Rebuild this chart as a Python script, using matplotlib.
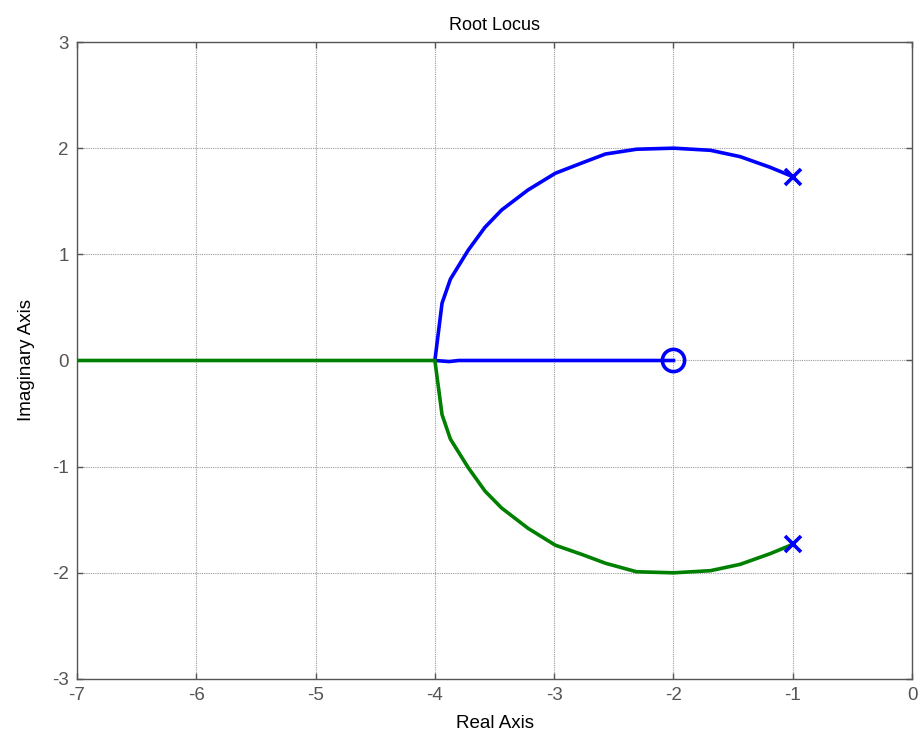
import matplotlib.pyplot as plt
import numpy as np

plt.rcParams['font.family'] = ['Liberation Sans', 'DejaVu Sans']
plt.rcParams['axes.unicode_minus'] = False

# open-loop poles and zero
poles_re = [-1.0, -1.0]
poles_im = [1.732, -1.732]
zeros_re = [-2.0]
zeros_im = [0.0]

# branch 1: upper pole -> breakaway at -4 -> zero at -2
branch1_re = [-1.0, -1.19, -1.44, -1.69, -2.0, -2.31, -2.57, -2.76, -2.99, -3.22,
              -3.44, -3.58, -3.72, -3.87, -3.94, -4.0, -3.88, -3.8, -2.0]
branch1_im = [1.732, 1.82, 1.92, 1.98, 2.0, 1.99, 1.945, 1.864, 1.764, 1.606,
              1.418, 1.255, 1.04, 0.766, 0.54, 0.0, -0.01, 0.0, 0.0]

# branch 2: lower pole -> breakaway at -4 -> along the negative real axis
branch2_re = [-1.0, -1.19, -1.44, -1.69, -2.0, -2.31, -2.57, -2.76, -2.99, -3.22,
              -3.44, -3.58, -3.72, -3.87, -3.94, -4.0, -12.0]
branch2_im = [-1.732, -1.82, -1.92, -1.98, -2.0, -1.99, -1.91, -1.83, -1.74, -1.58,
              -1.39, -1.23, -1.01, -0.74, -0.51, 0.0, 0.0]

gray = '#555555'

fig = plt.figure(figsize=(9.18, 7.49), dpi=100)
ax = fig.add_axes([0.0839, 0.0935, 0.9096, 0.8504])

ax.plot(branch1_re, branch1_im, color='#0000ff', lw=2.6, solid_joinstyle='miter', zorder=3)
ax.plot(branch2_re, branch2_im, color='#008000', lw=2.6, solid_joinstyle='miter', zorder=3)
ax.plot(poles_re, poles_im, 'x', color='#0000ff', ms=12, mew=2.6, zorder=4)
ax.plot(zeros_re, zeros_im, 'o', mfc='none', mec='#0000ff', ms=16, mew=2.6, zorder=4)

ax.set_xlim(-7, 0)
ax.set_ylim(-3, 3)
ax.set_xticks(np.arange(-7, 1, 1))
ax.set_yticks(np.arange(-3, 4, 1))

ax.grid(True, color='#9a9a9a', linestyle=(0, (1, 1)), linewidth=0.8)
ax.set_axisbelow(True)

for s in ax.spines.values():
    s.set_color(gray)
    s.set_linewidth(1.0)
ax.tick_params(direction='in', length=4, width=1.0, color=gray, labelcolor=gray,
               labelsize=13.5, top=True, right=True, pad=6)

ax.set_title('Root Locus', fontsize=13, pad=9)
ax.set_xlabel('Real Axis', fontsize=13.5, labelpad=8)
ax.set_ylabel('Imaginary Axis', fontsize=13.5, labelpad=12)

fig.savefig('out.png', dpi=100)
